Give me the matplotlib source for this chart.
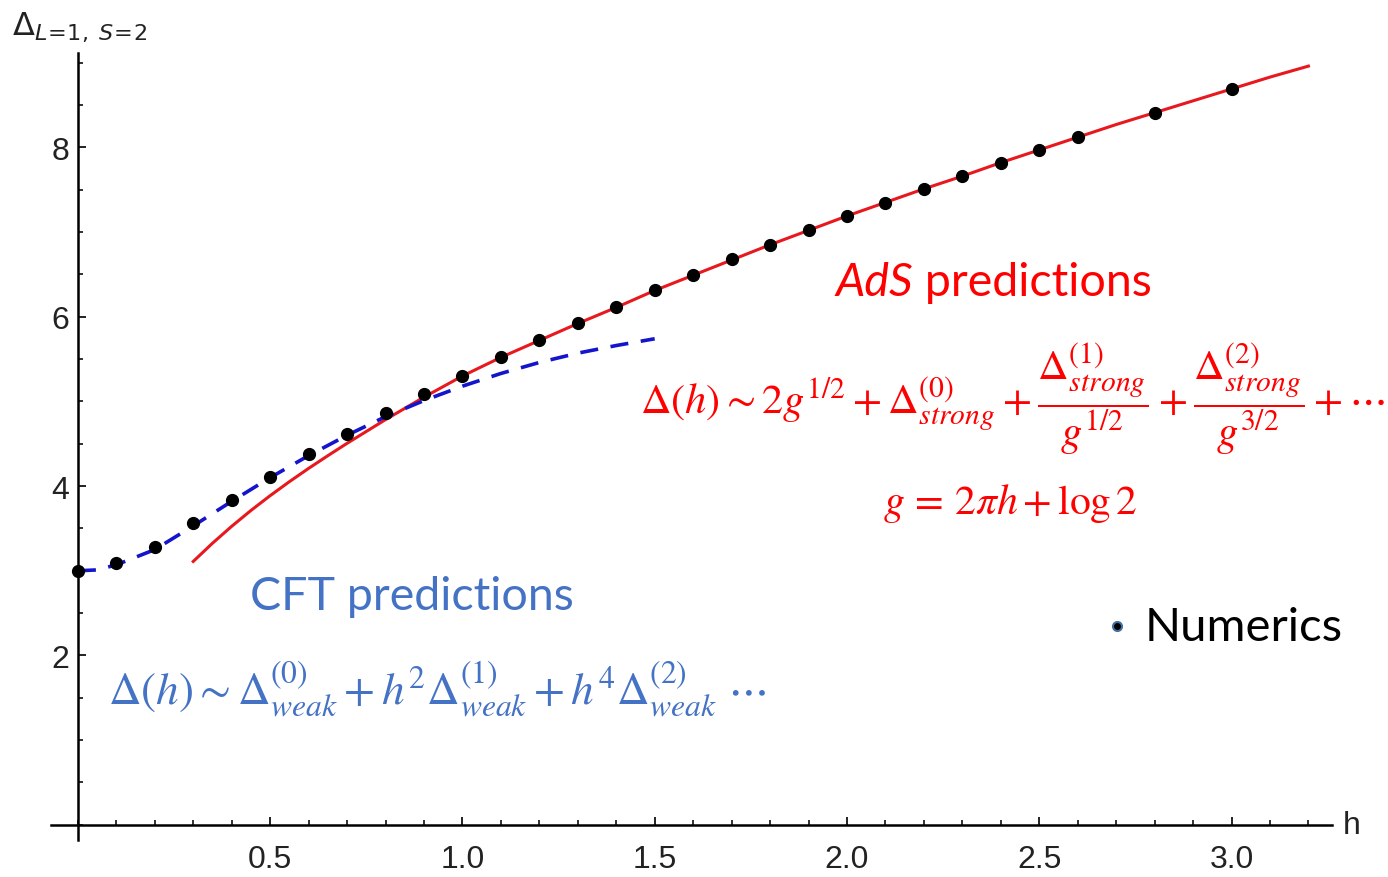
"""
Anomalous dimension vs coupling: numerics against weak and strong coupling predictions.
"""

import numpy as np
import matplotlib
matplotlib.use("Agg")
import matplotlib.pyplot as plt
from matplotlib.ticker import MultipleLocator, FixedLocator

# numerics (black dots)
h_num = [0.0, 0.1, 0.2, 0.3, 0.4, 0.5, 0.6, 0.7, 0.8, 0.9, 1.0, 1.1, 1.2,
         1.3, 1.4, 1.5, 1.6, 1.7, 1.8, 1.9, 2.0, 2.1, 2.2, 2.3, 2.4, 2.5,
         2.6, 2.8, 3.0]
delta_num = [3.00, 3.09, 3.28, 3.57, 3.83, 4.11, 4.38, 4.62, 4.86, 5.09,
             5.30, 5.53, 5.73, 5.93, 6.12, 6.32, 6.49, 6.68, 6.85, 7.02,
             7.19, 7.34, 7.51, 7.66, 7.82, 7.97, 8.12, 8.41, 8.69]

# weak coupling (CFT) prediction, blue dashed
h_weak = [0.0, 0.05, 0.1, 0.2, 0.3, 0.4, 0.5, 0.6, 0.7, 0.8, 0.9, 1.0,
          1.1, 1.2, 1.3, 1.4, 1.5]
delta_weak = [3.00, 3.01, 3.07, 3.25, 3.53, 3.82, 4.10, 4.36, 4.60, 4.82,
              5.01, 5.18, 5.33, 5.46, 5.57, 5.66, 5.74]

# strong coupling (AdS) prediction, red solid
h_strong = [0.30, 0.35, 0.40, 0.45, 0.5, 0.55, 0.6, 0.65, 0.7, 0.8, 0.9,
            1.0, 1.1, 1.2, 1.3, 1.4, 1.5, 1.6, 1.7, 1.8, 1.9, 2.0, 2.1,
            2.2, 2.3, 2.4, 2.5, 2.6, 2.7, 2.8, 2.9, 3.0, 3.1, 3.2]
delta_strong = [3.11, 3.325, 3.525, 3.712, 3.887, 4.052, 4.209, 4.359,
                4.505, 4.785, 5.05, 5.30, 5.52, 5.72, 5.92, 6.11, 6.31,
                6.49, 6.67, 6.85, 7.02, 7.19, 7.35, 7.51, 7.66, 7.82,
                7.97, 8.12, 8.27, 8.41, 8.55, 8.69, 8.83, 8.96]

x_ticks = [0.5, 1.0, 1.5, 2.0, 2.5, 3.0]
y_ticks = [2, 4, 6, 8]

RED_TEXT = "#FF0000"
RED_LINE = "#E8191E"
BLUE_LINE = "#1414CC"
BLUE_TEXT = "#4472C4"

fig = plt.figure(figsize=(13.88, 8.78), dpi=100)
ax = fig.add_axes([0.0367, 0.0421, 0.9226, 0.8969])

ax.plot(h_strong, delta_strong, color=RED_LINE, lw=2.2, zorder=2)
ax.plot(h_weak, delta_weak, color=BLUE_LINE, lw=2.6,
        dashes=(5.0, 3.5), zorder=3)
ax.plot(h_num, delta_num, "o", color="black", ms=8.5, zorder=4)

ax.set_xlim(-0.07, 3.26)
ax.set_ylim(-0.18, 9.12)

for side in ["top", "right"]:
    ax.spines[side].set_visible(False)
ax.spines["left"].set_position(("data", 0))
ax.spines["bottom"].set_position(("data", 0))
for side in ["left", "bottom"]:
    ax.spines[side].set_linewidth(1.8)

ax.xaxis.set_major_locator(FixedLocator(x_ticks))
ax.xaxis.set_minor_locator(MultipleLocator(0.1))
ax.yaxis.set_major_locator(FixedLocator(y_ticks))
ax.yaxis.set_minor_locator(MultipleLocator(0.5))
ax.set_xticklabels([f"{t:.1f}" for t in x_ticks])
ax.set_yticklabels([str(t) for t in y_ticks])

ax.tick_params(which="both", direction="in", color="#222222")
ax.tick_params(which="major", length=6, width=1.4)
ax.tick_params(which="minor", length=3.5, width=1.3)
ax.tick_params(axis="x", which="major", pad=14, labelsize=23)
ax.tick_params(axis="y", which="major", pad=6, labelsize=23)
for lab in ax.get_xticklabels() + ax.get_yticklabels():
    lab.set_family("Liberation Sans")
    lab.set_color("#222222")

ax.text(3.29, 0.0, "h", fontsize=23, family="Liberation Sans",
        ha="left", va="center", color="#222222", clip_on=False)

fig.text(12 / 1388, 1 - 27 / 878, r"$\Delta_{L\!=\!1,\;S\!=\!2}$",
         fontsize=23, math_fontfamily="dejavusans", ha="left",
         va="center", color="#222222")

# AdS annotations
ads = ax.text(1.971, 6.41, "AdS", fontsize=33.5, color=RED_TEXT,
              family="Lato", style="italic", ha="left", va="center")
ax.annotate(" predictions", xy=(1, 0), xycoords=ads, fontsize=33.5,
            color=RED_TEXT, family="Lato", ha="left", va="bottom")
ax.text(2.43, 5.03,
        r"$\Delta(h){\sim}2g^{1/2}+\Delta^{(0)}_{strong}"
        r"+\dfrac{\Delta^{(1)}_{strong}}{g^{1/2}}"
        r"+\dfrac{\Delta^{(2)}_{strong}}{g^{3/2}}+\cdots$",
        fontsize=30.5, color=RED_TEXT, math_fontfamily="stix",
        ha="center", va="center")
ax.text(2.424, 3.81, r"$g\,=\,2\pi h+\log 2$", fontsize=30,
        color=RED_TEXT, math_fontfamily="stix", ha="center", va="center")

# CFT annotations
ax.text(0.447, 2.70, "CFT predictions", fontsize=33.5, color=BLUE_TEXT,
        family="Lato", ha="left", va="center")
ax.text(0.078, 1.61,
        r"$\Delta(h){\sim}\Delta^{(0)}_{weak}+h^2\Delta^{(1)}_{weak}"
        r"+h^4\Delta^{(2)}_{weak}\ \cdots$",
        fontsize=32.5, color=BLUE_TEXT, math_fontfamily="stix",
        ha="left", va="center")

# legend-like label
ax.plot([2.702], [2.35], "o", color="black", ms=6.5, mec="#41719C",
        mew=1.5, clip_on=False)
ax.text(2.775, 2.34, "Numerics", fontsize=34, color="black",
        family="Lato", ha="left", va="center")

fig.savefig("out.png", dpi=100)
plt.close(fig)
